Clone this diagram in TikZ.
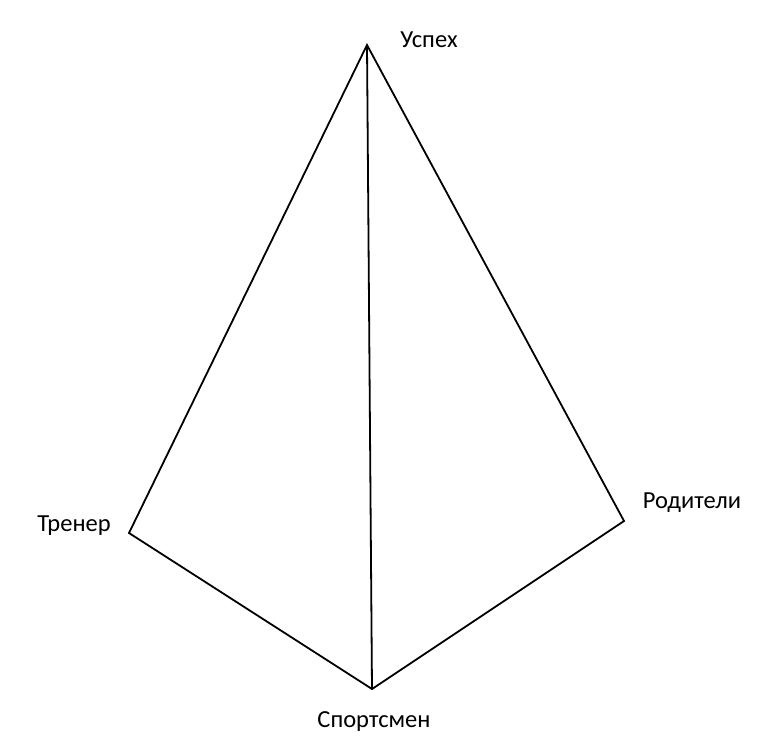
\documentclass[tikz,border=0pt]{standalone}
\usepackage{fontspec}
\setmainfont{Carlito}
\begin{document}
\begin{tikzpicture}[x=1pt,y=-1pt,
  lbl/.style={font=\fontsize{24.5}{28}\selectfont, inner sep=0pt},
  edge/.style={draw=black, line width=1.8pt, line join=miter}]
\useasboundingbox (0,0) rectangle (769,749);
\coordinate (top) at (367,45);
\coordinate (left) at (129,533);
\coordinate (right) at (624,521);
\coordinate (bottom) at (372,689);
\draw[edge] (top) -- (left) -- (bottom) -- (right) -- cycle;
\draw[edge] (top) -- (bottom);
\node[lbl] (t1) at (429,40) {Успех};
\node[lbl] (t2) at (74,526) {Тренер};
\node[lbl] (t3) at (692,503) {Родители};
\node[lbl] (t4) at (374,722) {Спортсмен};
\end{tikzpicture}
\end{document}
